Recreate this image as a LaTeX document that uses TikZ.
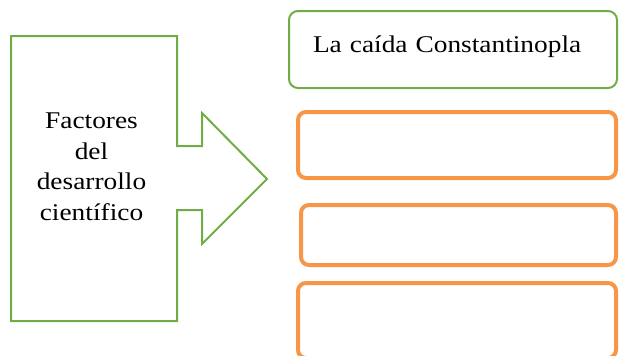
\documentclass[tikz,border=0pt]{standalone}
\usepackage{fontspec}
\setmainfont{Liberation Serif}[FakeStretch=1.14]

\definecolor{verde}{RGB}{112,173,71}
\definecolor{naranja}{RGB}{247,150,70}

\begin{document}
\begin{tikzpicture}[x=1pt,y=-1pt,font=\fontsize{24}{30.5}\selectfont]
       \tikzstyle{caja}=[draw,rounded corners=9pt,inner sep=0pt]
       \tikzstyle{titulo}=[caja,draw=verde,line width=2pt]
       \tikzstyle{hueco}=[caja,draw=naranja,line width=4pt,rounded corners=8pt]

       \useasboundingbox (0,0) rectangle (619,356);
       \clip (0,0) rectangle (619,356);

       % flecha de la izquierda
       \draw[verde,line width=2pt] (11,36) -- (177,36) -- (177,146) -- (202,146)
             -- (202,113) -- (267,179) -- (202,244) -- (202,210) -- (177,210)
             -- (177,321) -- (11,321) -- cycle;
       \node[align=center] (factores) at (91.5,167) {Factores\\del\\desarrollo\\científico};

       % cajas de la derecha
       \node[titulo,align=left,text width=280pt,inner xsep=24pt,minimum height=77pt,
             text height=15pt,text depth=10pt] (caida) at (453,49.5) {La caída Constantinopla};
       \node[hueco,minimum width=318pt,minimum height=66pt] (hueco1) at (457,145) {};
       \node[hueco,minimum width=315pt,minimum height=60pt] (hueco2) at (458.5,235) {};
       \node[hueco,minimum width=318pt,minimum height=75pt] (hueco3) at (457,320.5) {};
     \end{tikzpicture}
\end{document}
